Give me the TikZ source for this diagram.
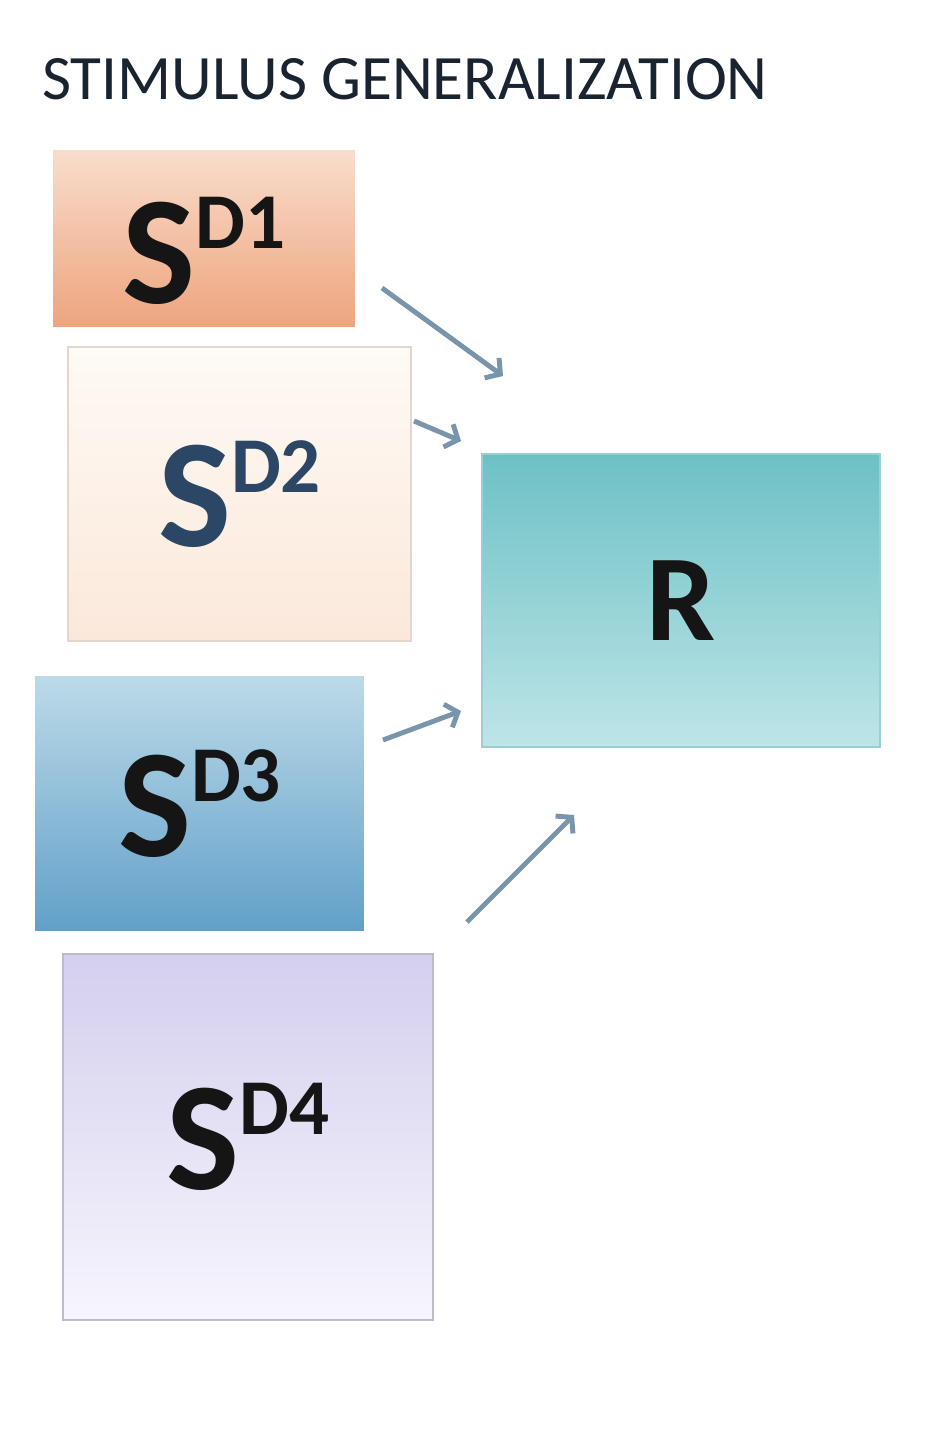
\documentclass[tikz,border=0pt]{standalone}
\usepackage{fontspec}
\setmainfont{Carlito}
\usepackage{xcolor}
\usepackage{tikz}
\usetikzlibrary{arrows.meta}
\definecolor{sdOrangeTop}{HTML}{F9DDCC}
\definecolor{sdOrangeBot}{HTML}{EEA47D}
\definecolor{sdCreamTop}{HTML}{FEFAF5}
\definecolor{sdCreamBot}{HTML}{FBE8DA}
\definecolor{sdCreamLine}{HTML}{E4D6CA}
\definecolor{sdTealTop}{HTML}{6CC1C5}
\definecolor{sdTealBot}{HTML}{BEE5E8}
\definecolor{sdTealLine}{HTML}{9CCFD3}
\definecolor{sdBlueTop}{HTML}{BCDAE8}
\definecolor{sdBlueBot}{HTML}{62A0C9}
\definecolor{sdLilacTop}{HTML}{D3CFEE}
\definecolor{sdLilacBot}{HTML}{F7F5FD}
\definecolor{sdLilacLine}{HTML}{BDBACF}
\definecolor{sdInk}{HTML}{151515}
\definecolor{sdNavy}{HTML}{2C4766}
\definecolor{sdTitle}{HTML}{1A2430}
\definecolor{sdArrow}{HTML}{7895AC}
\newcommand{\stim}[1]{{\fontsize{88}{88}\selectfont S}\raisebox{31pt}{\fontsize{45}{45}\selectfont D#1}}
\tikzset{
  box/.style={rectangle, inner sep=0pt, outer sep=0pt, line width=0.7pt, font=\bfseries, text=sdInk},
  boxOrange/.style={box, top color=sdOrangeTop, bottom color=sdOrangeBot},
  boxCream/.style={box, top color=sdCreamTop, bottom color=sdCreamBot, draw=sdCreamLine, text=sdNavy},
  boxTeal/.style={box, top color=sdTealTop, bottom color=sdTealBot, draw=sdTealLine},
  boxBlue/.style={box, top color=sdBlueTop, bottom color=sdBlueBot},
  boxLilac/.style={box, top color=sdLilacTop, bottom color=sdLilacBot, draw=sdLilacLine},
  arrow/.style={-{Straight Barb[length=6pt,width=14pt,line width=2.8pt]}, line width=2.8pt, draw=sdArrow}
}

\begin{document}
\begin{tikzpicture}[x=0.02cm, y=-0.02cm]
  \useasboundingbox (0,0) rectangle (946,1444);
  \node[anchor=base west, text=sdTitle, font=\fontsize{36}{40}\selectfont] (title) at (36,99) {STIMULUS GENERALIZATION};

  \node[boxOrange, minimum width=6.04cm, minimum height=3.54cm] (sd1) at (204,238.5) {\raisebox{-7pt}[\height][\depth]{\stim{1}}};
  \node[boxCream, minimum width=6.86cm, minimum height=5.88cm] (sd2) at (239.5,494) {\stim{2}};
  \node[boxTeal, minimum width=7.96cm, minimum height=5.86cm, font=\bfseries\fontsize{70}{70}\selectfont] (resp) at (681,600.5) {R};
  \node[boxBlue, minimum width=6.58cm, minimum height=5.10cm] (sd3) at (199.5,803.5) {\stim{3}};
  \node[boxLilac, minimum width=7.40cm, minimum height=7.32cm] (sd4) at (248,1137) {\stim{4}};

  % arrow ends, free of the boxes
  \coordinate (a1from) at (382,288);
  \coordinate (a1to) at (503,376);
  \coordinate (a2from) at (414,421);
  \coordinate (a2to) at (461,441);
  \coordinate (a3from) at (383,740);
  \coordinate (a3to) at (461,711);
  \coordinate (a4from) at (467,922);
  \coordinate (a4to) at (574,815);

  \draw[arrow] (a1from) -- (a1to);
  \draw[arrow] (a2from) -- (a2to);
  \draw[arrow] (a3from) -- (a3to);
  \draw[arrow] (a4from) -- (a4to);
\end{tikzpicture}
\end{document}
